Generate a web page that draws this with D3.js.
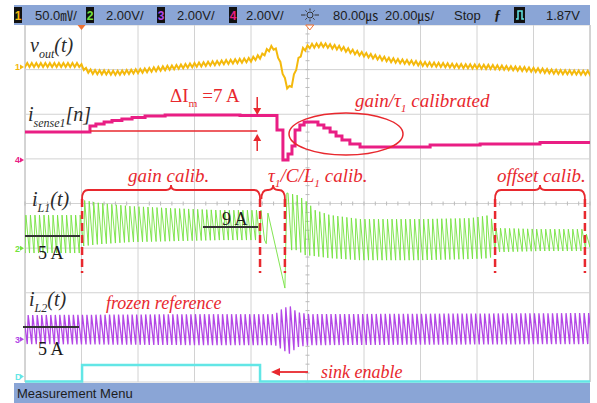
<!DOCTYPE html>
<html><head><meta charset="utf-8">
<script src="https://cdn.jsdelivr.net/npm/d3@7"></script>
<style>body{margin:0;background:#fff}svg{display:block}</style>
</head><body><svg id="c" width="597" height="403"></svg>
<script>
// ================= DATA =================
// time axis: 20 µs/div, 10 divisions
const timeTicks = d3.range(0, 201, 20);          // µs
const divTicks  = d3.range(-4, 5, 1);            // vertical divisions

// status line readouts
const headerTexts = ['50.0㎷/', '2.00V/', '2.00V/', '2.00V/', '80.00㎲', '20.00㎲/', 'Stop', '1.87V'];
const channelNames = ['1', '2', '3', '4'];
const footerText = 'Measurement Menu';

// Channel 1 : v_out(t), AC, mV (centre of the ripple band)
const voutT  = [0,19.5,21.6,23.7,32.6,40.7,50.3,60.2,68,79.6,83.9,86,87.8,89.2,90.6,92,93.1,94.2,95.6,97,98.4,100.9,105.5,111.5,117.5,123.9,129.2,140.9,152.9,164.6,176.3,188.3,200];
const voutMv = [2.2,2.2,-3.4,-5.6,-6.7,-4.5,-1.1,2.2,4.5,7.8,12.3,19,22.4,16.8,1.1,-14.6,-24.6,-22.4,-5.6,10.1,19,23.5,24.6,21.3,15.7,11.2,7.8,3.4,1.1,0,-2.2,-5.6,-6.7];
const voutRippleMv = 4.5;         // peak-to-peak

// Channel 4 : i_sense1[n] (digital estimate, V)
const isenseT = [0,23,25.1,28,30.8,34.3,37.9,42.5,49.6,61.9,76.1,89.2,91.3,93.1,94.5,95.6,97.3,98.8,101.6,103.7,105.8,108,110.1,112.2,115,118.6,129.2,143.4,161.1,182.3,200];
const isenseV = [1.25,1.52,1.61,1.70,1.77,1.84,1.90,1.97,2.02,2.02,1.99,1.34,0,0.27,0.63,1.34,1.57,1.70,1.70,1.57,1.43,1.25,1.08,0.90,0.72,0.58,0.58,0.67,0.72,0.78,0.83];

// Channel 2 : i_L1(t) ripple envelope (V)
const iL1T   = [0,19.8,20.5,26.5,37.2,51.3,69,82.5,85,86,92,92.7,96.3,99.1,102.7,108,118.6,139.8,157.5,164.6,166.4,182.3,197.9,198.6,200];
const iL1Top = [1.48,1.48,2.15,2.02,1.88,1.79,1.70,1.70,1.70,1.57,1.57,2.47,2.38,2.15,1.70,1.48,1.30,1.30,1.34,1.48,0.90,0.85,0.85,0.63,0.63];
const iL1Bot = [-0.22,-0.22,0.09,0.18,0.27,0.31,0.36,0.36,0.36,0.36,0.36,-0.09,-0.09,-0.31,-0.36,-0.45,-0.54,-0.54,-0.49,-0.45,-0.18,-0.13,-0.13,0.04,0.04];
// calibration transient of i_L1 (drawn point by point)
const iL1TransT = [85.4, 86.0, 92.0, 92.7];
const iL1TransV = [0.20, 1.57, -1.79, 2.47];

// Channel 3 : i_L2(t) ripple envelope (V)
const iL2T   = [0,61.9,88.5,91.3,93.8,96.3,100.9,200];
const iL2Top = [1.08,1.12,1.12,1.39,1.48,1.21,1.12,1.17];
const iL2Bot = [-0.22,-0.27,-0.27,-0.49,-0.67,-0.36,-0.27,-0.22];

const switchPeriodUs = 1.6;       // inductor ripple period

// Digital D0 : sink enable
const sinkT = [0, 20.2, 83.2, 200];
const sinkV = [0, 1, 0, 0];

// calibration phase boundaries (µs)
const gainCal   = [20.2, 83.2];
const tauCal    = [83.2, 92.0];
const offsetCal = [166.4, 198.2];
const deltaImAt = 82.2;

// ================= LAYOUT =================
const svg = d3.select('#c');
const plot = {left:25, right:590, top:25, bottom:382};
const x = d3.scaleLinear([0,200], [plot.left, plot.right]);
const yDiv = d3.scaleLinear([-4,4], [plot.bottom, plot.top]);
const ch = {
  c1:{perDiv:50, pos:3.06,  color:'#f4b90c'},
  c2:{perDiv:2,  pos:-1.0,  color:'#74e23e'},
  c3:{perDiv:2,  pos:-3.04, color:'#b347e6'},
  c4:{perDiv:2,  pos:0.975, color:'#e91e84'}
};
const yCh = (c, v) => yDiv(c.pos + v / c.perDiv);
const yDig = d3.scaleLinear([0,1], [381.5, 365]);
const RED = '#e8282e';
const serif = "'Liberation Serif','DejaVu Serif',serif";
const sans = "'Liberation Sans','DejaVu Sans',sans-serif";

// background
svg.append('rect').attr('width',597).attr('height',403).attr('fill','#fff');

// grid
const grid = svg.append('g');
grid.selectAll('line.v').data(timeTicks).join('line')
  .attr('x1', d=>x(d)).attr('x2', d=>x(d)).attr('y1', plot.top).attr('y2', plot.bottom)
  .attr('stroke', (d,i)=> (i===0||i===timeTicks.length-1)?'#a8a8a8':'#d2d2d2').attr('stroke-width',1);
grid.selectAll('line.h').data(divTicks).join('line')
  .attr('x1', plot.left).attr('x2', plot.right).attr('y1', d=>yDiv(d)).attr('y2', d=>yDiv(d))
  .attr('stroke','#d2d2d2').attr('stroke-width',1);
// minor ticks on centre axes
const minorT = d3.range(0, 200.01, 4);
grid.selectAll('line.mt').data(minorT).join('line')
  .attr('x1', d=>x(d)).attr('x2', d=>x(d)).attr('y1', yDiv(0)-2).attr('y2', yDiv(0)+2)
  .attr('stroke','#bbb');
const minorD = d3.range(-4, 4.01, 0.2);
grid.selectAll('line.md').data(minorD).join('line')
  .attr('x1', x(100)-2).attr('x2', x(100)+2).attr('y1', d=>yDiv(d)).attr('y2', d=>yDiv(d))
  .attr('stroke','#bbb');

// clip
svg.append('clipPath').attr('id','clip').append('rect')
  .attr('x',plot.left).attr('y',plot.top).attr('width',plot.right-plot.left).attr('height',plot.bottom-plot.top+2);
const traces = svg.append('g').attr('clip-path','url(#clip)');

// helpers
function sawtooth(T, phase, rise, t0, t1, topF, botF){
  const pts = [];
  let k = Math.floor((t0 - phase*T)/T) - 1;
  for(;;k++){
    const ts = (phase + k)*T, tp = ts + rise*T;
    if (ts > t1) break;
    if (ts >= t0) pts.push([ts, botF(ts)]);
    if (tp >= t0 && tp <= t1) pts.push([tp, topF(tp)]);
  }
  return pts;
}

// D0 sink enable
const sinkData = sinkT.map((t,i)=>[t, sinkV[i]]);
traces.append('path').datum(sinkData)
  .attr('d', d3.line().x(d=>x(d[0])).y(d=>yDig(d[1])).curve(d3.curveStepAfter))
  .attr('fill','none').attr('stroke','#62e6e6').attr('stroke-width',2.5);

// i_L2
const l2Top = d3.scaleLinear(iL2T, iL2Top), l2Bot = d3.scaleLinear(iL2T, iL2Bot);
const l2Pts = sawtooth(switchPeriodUs, 0.5, 0.2, -2, 202, l2Top, l2Bot);
traces.append('path').datum(l2Pts)
  .attr('d', d3.line().x(d=>x(d[0])).y(d=>yCh(ch.c3, d[1])))
  .attr('fill','none').attr('stroke', ch.c3.color).attr('stroke-width',1.3);

// i_L1
const l1Top = d3.scaleLinear(iL1T, iL1Top), l1Bot = d3.scaleLinear(iL1T, iL1Bot);
const l1Pts = sawtooth(switchPeriodUs, 0, 0.2, -2, iL1TransT[0]-0.3, l1Top, l1Bot)
  .concat(iL1TransT.map((t,i)=>[t, iL1TransV[i]]))
  .concat(sawtooth(switchPeriodUs, 0, 0.2, iL1TransT[iL1TransT.length-1]+0.3, 202, l1Top, l1Bot));
traces.append('path').datum(l1Pts)
  .attr('d', d3.line().x(d=>x(d[0])).y(d=>yCh(ch.c2, d[1])))
  .attr('fill','none').attr('stroke', ch.c2.color).attr('stroke-width',0.9);

// i_sense1
const isData = isenseT.map((t,i)=>[t, isenseV[i]]);
traces.append('path').datum(isData)
  .attr('d', d3.line().x(d=>x(d[0])).y(d=>yCh(ch.c4, d[1])).curve(d3.curveStepAfter))
  .attr('fill','none').attr('stroke', ch.c4.color).attr('stroke-width',3);

// v_out
const vC = d3.scaleLinear(voutT, voutMv);
const vPts = [];
for (let k = -1; k*switchPeriodUs/2 <= 202; k++){
  const t = k*switchPeriodUs/2;
  vPts.push([t, vC(Math.max(0,Math.min(200,t))) + (k%2 ? voutRippleMv/2 : -voutRippleMv/2)]);
}
traces.append('path').datum(vPts)
  .attr('d', d3.line().x(d=>x(d[0])).y(d=>yCh(ch.c1, d[1])))
  .attr('fill','none').attr('stroke', ch.c1.color).attr('stroke-width',2);

// ---- status bars ----
svg.append('rect').attr('x',14).attr('y',5).attr('width',576).attr('height',20).attr('fill','#8aa5d6');
svg.append('rect').attr('x',14).attr('y',383).attr('width',576).attr('height',20).attr('fill','#8aa5d6');
const hdrX = [35,106,177,246,333,385,454,546];
svg.append('g').selectAll('text').data(headerTexts).join('text')
  .attr('x',(d,i)=>hdrX[i]).attr('y',20).text(d=>d)
  .attr('font-family', sans + ",'Noto Sans CJK SC'").attr('font-size',13).attr('fill','#1c1c1c');
const boxX = [14,86,157,229];
const boxCol = [ch.c1.color, ch.c2.color, ch.c3.color, ch.c4.color];
const boxes = svg.append('g');
boxes.selectAll('rect').data(channelNames).join('rect')
  .attr('x',(d,i)=>boxX[i]).attr('y',7).attr('width',8).attr('height',16).attr('fill','#111');
boxes.selectAll('text').data(channelNames).join('text')
  .attr('x',(d,i)=>boxX[i]+4).attr('y',20).attr('text-anchor','middle').text(d=>d)
  .attr('font-family',sans).attr('font-size',12).attr('font-weight','bold').attr('fill',(d,i)=>boxCol[i]);
// digital channel box
svg.append('rect').attr('x',514).attr('y',7).attr('width',11).attr('height',16).attr('fill','#111');
svg.append('path').attr('d','M516,19 L518,19 L518,11 L522,11 L522,19 L524,19').attr('fill','none').attr('stroke','#62e6e6').attr('stroke-width',1.5);
// brightness symbol
const sun = svg.append('g').attr('transform','translate(310,15)').attr('stroke','#333').attr('fill','none');
sun.append('circle').attr('r',3);
d3.range(8).forEach(i=>{const a=i*Math.PI/4; sun.append('line').attr('x1',Math.cos(a)*4.5).attr('y1',Math.sin(a)*4.5).attr('x2',Math.cos(a)*(i%4===0?9:6.5)).attr('y2',Math.sin(a)*(i%4===0?9:6.5));});
// trigger slope glyph
svg.append('text').attr('x',494).attr('y',20).text('ƒ').attr('font-family',serif).attr('font-style','italic').attr('font-weight','bold').attr('font-size',14).attr('fill','#1c1c1c');
svg.append('text').attr('x',17).attr('y',398).text(footerText).attr('font-family',sans).attr('font-size',13).attr('fill','#1c1c1c');

// trigger markers
svg.append('path').attr('d',`M${x(20)-4},25 L${x(20)+4},25 L${x(20)},30 Z`).attr('fill','#f07030');
svg.append('path').attr('d',`M${x(100.8)-4},25 L${x(100.8)+4},25 L${x(100.8)},30 Z`).attr('fill','#fff').attr('stroke','#f07030');

// channel ground markers
const markers = [
  {lab:'1', c:ch.c1.color, y:yCh(ch.c1,0)},
  {lab:'4', c:ch.c4.color, y:yCh(ch.c4,0)},
  {lab:'2', c:ch.c2.color, y:yCh(ch.c2,0)},
  {lab:'3', c:ch.c3.color, y:yCh(ch.c3,0)},
  {lab:'D', c:'#62e6e6',  y:yDig(0)-5}
];
const mk = svg.append('g');
markers.forEach(m=>{
  mk.append('text').attr('x',15).attr('y',m.y+3.5).text(m.lab).attr('font-family',sans).attr('font-size',9).attr('font-weight','bold').attr('fill',m.c);
  mk.append('path').attr('d',`M20,${m.y-2.5} L24,${m.y} L20,${m.y+2.5} Z`).attr('fill',m.c);
});

// ---- annotations ----
function rich(px, py, parts, st){
  const t = svg.append('text').attr('x',px).attr('y',py)
    .attr('font-family',serif).attr('font-size',st.size)
    .attr('font-style', st.italic?'italic':'normal').attr('fill',st.color);
  let shift = 0;
  parts.forEach(([s,kind])=>{
    const ts = t.append('tspan').text(s);
    const target = kind==='sub' ? st.size*0.28 : 0;
    if (target !== shift){ ts.attr('dy', target-shift); shift = target; }
    if (kind==='sub') ts.attr('font-size', st.size*0.6);
  });
}
const lab = {size:20, italic:true, color:'#2b2b2b'};
rich(30, 52,  [['v'],['out','sub'],['(t)']], lab);
rich(28, 121, [['i'],['sense1','sub'],['[n]']], lab);
rich(32, 206, [['i'],['L1','sub'],['(t)']], lab);
rich(29, 306, [['i'],['L2','sub'],['(t)']], lab);

const redIt = {size:19, italic:true, color:RED};
rich(170, 102, [['ΔI'],['m','sub'],[' =7 A']], {size:19, italic:false, color:RED});
rich(355, 107, [['gain/τ'],['1','sub'],[' calibrated']], redIt);
rich(128, 182, [['gain calib.']], redIt);
rich(268, 182, [['τ'],['1','sub'],['/C/L'],['1','sub'],[' calib.']], redIt);
rich(497, 182, [['offset calib.']], redIt);
rich(106, 309, [['frozen reference']], {size:18, italic:true, color:RED});
rich(321, 378, [['sink enable']], {size:18, italic:true, color:RED});

const blk = {size:18, italic:false, color:'#1a1a1a'};
rich(222, 225, [['9 A']], blk);
rich(38, 259, [['5 A']], blk);
rich(38, 355, [['5 A']], blk);

const ann = svg.append('g');
// black reference bars
ann.append('line').attr('x1',25).attr('x2',80).attr('y1',236).attr('y2',236).attr('stroke','#333').attr('stroke-width',2);
ann.append('line').attr('x1',203).attr('x2',258).attr('y1',227).attr('y2',227).attr('stroke','#333').attr('stroke-width',2);
ann.append('line').attr('x1',23).attr('x2',79).attr('y1',327).attr('y2',327).attr('stroke','#333').attr('stroke-width',2);
// ΔIm marks
const ax = x(deltaImAt);
ann.append('line').attr('x1',x(23)).attr('x2',ax).attr('y1',yCh(ch.c4,isenseV[0])-1).attr('y2',yCh(ch.c4,isenseV[0])-1).attr('stroke',RED).attr('stroke-width',1.5);
ann.append('line').attr('x1',ax).attr('x2',ax).attr('y1',97).attr('y2',110).attr('stroke',RED).attr('stroke-width',1.5);
ann.append('path').attr('d',`M${ax-4},108 L${ax+4},108 L${ax},115 Z`).attr('fill',RED);
ann.append('line').attr('x1',ax).attr('x2',ax).attr('y1',139).attr('y2',151).attr('stroke',RED).attr('stroke-width',1.5);
ann.append('path').attr('d',`M${ax-4},141 L${ax+4},141 L${ax},134 Z`).attr('fill',RED);
// ellipse
ann.append('ellipse').attr('cx',346).attr('cy',134).attr('rx',57).attr('ry',21).attr('fill','none').attr('stroke',RED).attr('stroke-width',1.5);
// braces
function brace(t1, t2){
  const x1 = x(t1), x2 = x(t2), xc = (x1+x2)/2;
  ann.append('path').attr('d',`M${x1},199 Q${x1},190 ${x1+6},190 L${xc-5},190 Q${xc},190 ${xc},185 Q${xc},190 ${xc+5},190 L${x2-6},190 Q${x2},190 ${x2},199`)
    .attr('fill','none').attr('stroke',RED).attr('stroke-width',1.8);
}
brace(gainCal[0], gainCal[1]);
brace(tauCal[0]+0.5, tauCal[1]);
brace(offsetCal[0], offsetCal[1]);
const dashT = [gainCal[0], gainCal[1], tauCal[1], offsetCal[0], offsetCal[1]];
ann.selectAll('line.dash').data(dashT).join('line')
  .attr('x1',d=>x(d)).attr('x2',d=>x(d)).attr('y1',199).attr('y2',273)
  .attr('stroke',RED).attr('stroke-width',2.5).attr('stroke-dasharray','8,4');
// sink enable arrow
ann.append('line').attr('x1',308).attr('x2',278).attr('y1',372).attr('y2',372).attr('stroke',RED).attr('stroke-width',1.8);
ann.append('path').attr('d','M280,368 L280,376 L271,372 Z').attr('fill',RED);
</script></body></html>
